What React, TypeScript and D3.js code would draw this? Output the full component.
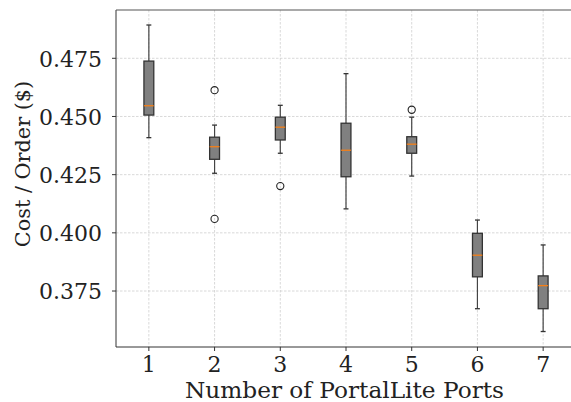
import React from "react";
import * as d3 from "d3";

const categories = [1, 2, 3, 4, 5, 6, 7];
const whiskerLow = [0.4409, 0.4256, 0.4342, 0.4103, 0.4244, 0.3674, 0.3576];
const q1 = [0.4506, 0.4316, 0.4399, 0.4241, 0.4342, 0.3811, 0.3674];
const medians = [0.4546, 0.437, 0.4454, 0.4355, 0.4381, 0.3904, 0.3773];
const q3 = [0.4738, 0.4411, 0.4497, 0.4471, 0.4413, 0.3998, 0.3815];
const whiskerHigh = [0.4893, 0.4463, 0.4548, 0.4684, 0.4497, 0.4055, 0.3948];
const outliers: number[][] = [[], [0.4613, 0.406], [0.4201], [], [0.4529], [], []];
const yTicks = [0.375, 0.4, 0.425, 0.45, 0.475];

const W = 571;
const H = 402;
const left = 116;
const top = 10;
const bottom = 347;
const right = 576;

export default function App() {
  const x = d3.scaleLinear().domain([0.5, 7.5]).range([left, right]);
  const y = d3.scaleLinear().domain([0.35095, 0.49575]).range([bottom, top]);
  const bw = x(1.075) - x(0.925);
  const cw = bw / 2;
  const font = "'DejaVu Serif', serif";
  const fs = 22;
  return (
    <svg width={W} height={H} style={{ position: "absolute", left: 0, top: 0 }}>
      <rect x={0} y={0} width={W} height={H} fill="#fff" />
      {categories.map((c) => (
        <line key={"gx" + c} x1={x(c)} x2={x(c)} y1={top} y2={bottom} stroke="#cfcfcf" strokeWidth={0.8} strokeDasharray="2.5,1.5" />
      ))}
      {yTicks.map((t) => (
        <line key={"gy" + t} x1={left} x2={W} y1={y(t)} y2={y(t)} stroke="#cfcfcf" strokeWidth={0.8} strokeDasharray="2.5,1.5" />
      ))}
      {categories.map((c, i) => {
        const cx = x(c);
        return (
          <g key={"b" + c}>
            <line x1={cx} x2={cx} y1={y(q3[i])} y2={y(whiskerHigh[i])} stroke="#444" strokeWidth={1.2} />
            <line x1={cx} x2={cx} y1={y(q1[i])} y2={y(whiskerLow[i])} stroke="#444" strokeWidth={1.2} />
            <line x1={cx - cw / 2} x2={cx + cw / 2} y1={y(whiskerHigh[i])} y2={y(whiskerHigh[i])} stroke="#333" strokeWidth={1.3} />
            <line x1={cx - cw / 2} x2={cx + cw / 2} y1={y(whiskerLow[i])} y2={y(whiskerLow[i])} stroke="#333" strokeWidth={1.3} />
            <rect x={cx - bw / 2} y={y(q3[i])} width={bw} height={y(q1[i]) - y(q3[i])} fill="#808080" stroke="#333" strokeWidth={1.3} />
            <line x1={cx - bw / 2} x2={cx + bw / 2} y1={y(medians[i])} y2={y(medians[i])} stroke="#ff7f0e" strokeWidth={1.2} />
            {outliers[i].map((o, j) => (
              <circle key={j} cx={cx} cy={y(o)} r={3.6} fill="none" stroke="#222" strokeWidth={1.1} />
            ))}
          </g>
        );
      })}
      <line x1={left} x2={left} y1={top} y2={bottom} stroke="#333" strokeWidth={1} />
      <line x1={left} x2={W} y1={top} y2={top} stroke="#555" strokeWidth={1.2} />
      <line x1={left} x2={W} y1={bottom} y2={bottom} stroke="#333" strokeWidth={1} />
      {yTicks.map((t) => (
        <g key={"yt" + t}>
          <line x1={left - 4} x2={left} y1={y(t)} y2={y(t)} stroke="#333" strokeWidth={1} />
          <text x={102} y={y(t) + 8.4} textAnchor="end" fontFamily={font} fontSize={fs} fill="#222">
            {t.toFixed(3)}
          </text>
        </g>
      ))}
      {categories.map((c) => (
        <g key={"xt" + c}>
          <line x1={x(c)} x2={x(c)} y1={bottom} y2={bottom + 4} stroke="#333" strokeWidth={1} />
          <text x={x(c)} y={372.3} textAnchor="middle" fontFamily={font} fontSize={fs} fill="#222">
            {c}
          </text>
        </g>
      ))}
      <text x={344.5} y={398} textAnchor="middle" fontFamily={font} fontSize={fs} fill="#222" textLength={319} lengthAdjust="spacingAndGlyphs">
        Number of PortalLite Ports
      </text>
      <text transform="translate(30,164) rotate(-90)" x={0} y={0} textAnchor="middle" fontFamily={font} fontSize={20.8} fill="#222">
        Cost / Order ($)
      </text>
    </svg>
  );
}
